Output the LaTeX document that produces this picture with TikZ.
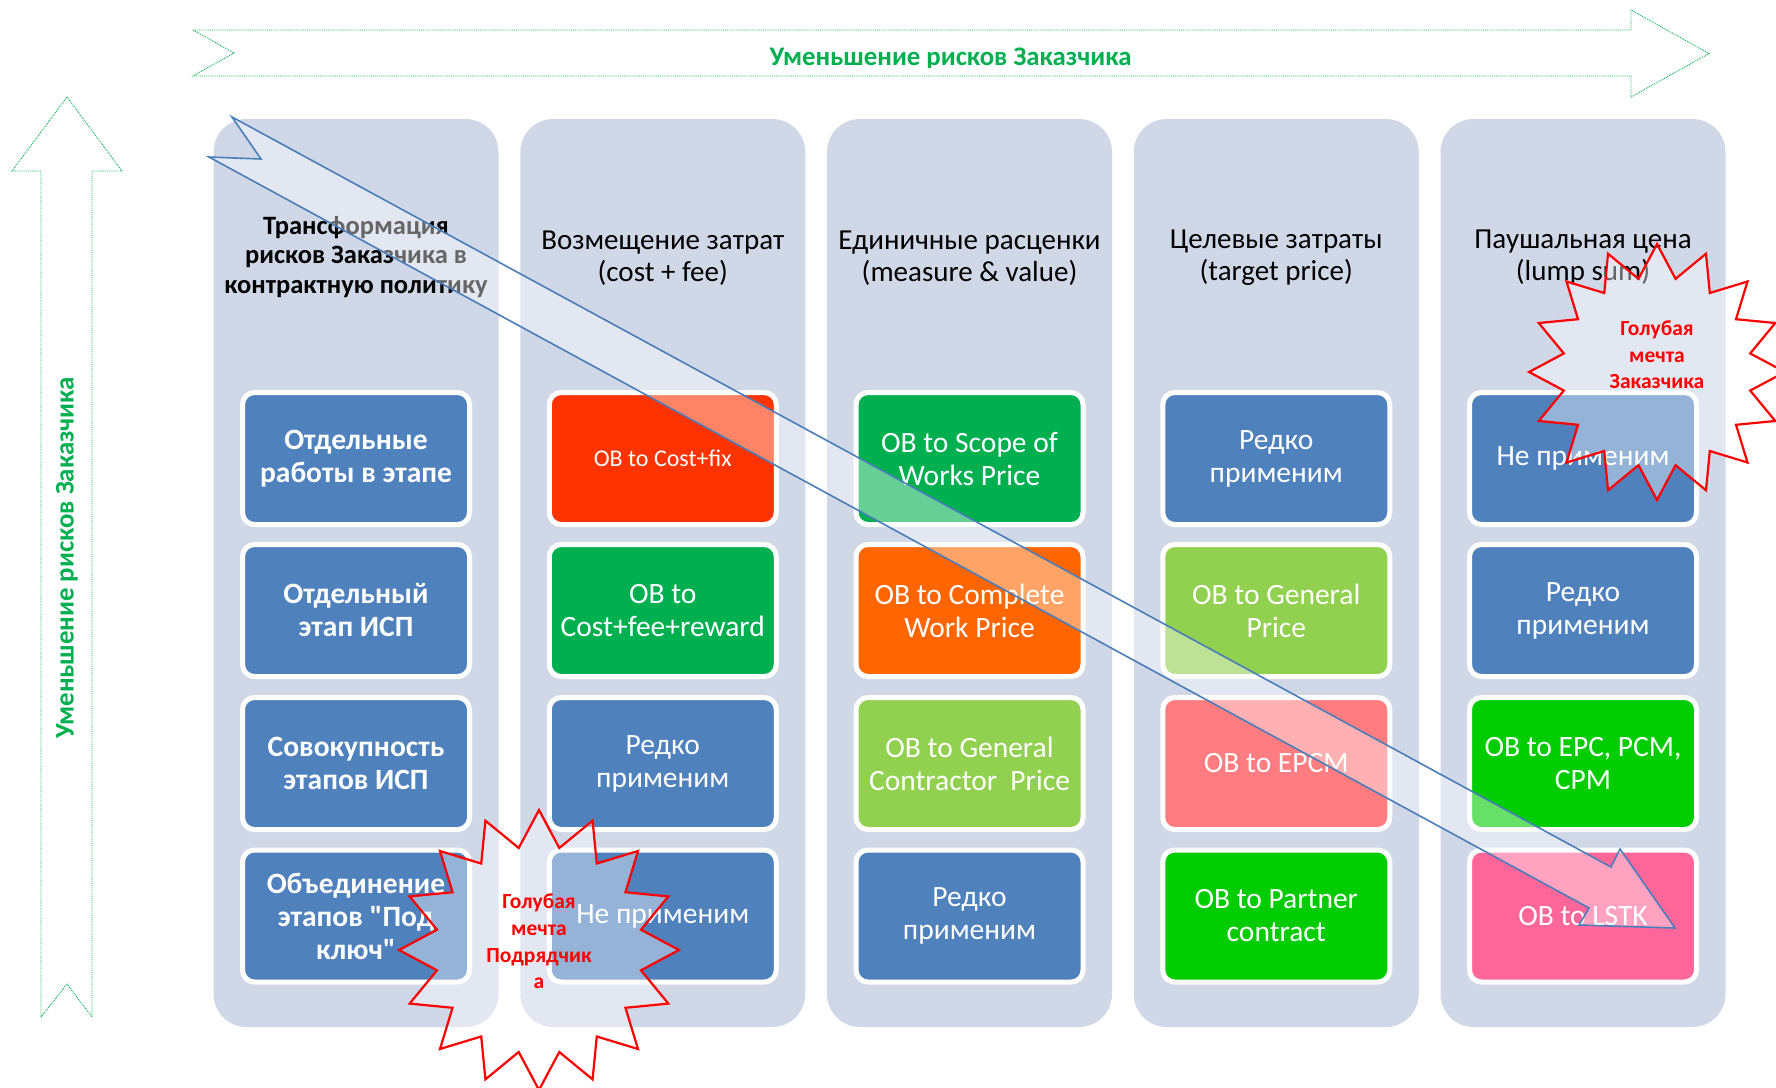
\documentclass[tikz,border=0pt]{standalone}
\usepackage{fontspec}
\setmainfont{Carlito}
\newfontfamily\qfont{Carlito}
\definecolor{panelc}{HTML}{D0D8E8}
\definecolor{cblue}{HTML}{4F81BD}
\definecolor{cred}{HTML}{FF3300}
\definecolor{cgreen}{HTML}{00B050}
\definecolor{corange}{HTML}{FF6600}
\definecolor{clgreen}{HTML}{92D050}
\definecolor{csalmon}{HTML}{FF7C80}
\definecolor{cbgreen}{HTML}{00CC00}
\definecolor{cpink}{HTML}{FF6699}
\definecolor{arrowblue}{HTML}{4A7EBB}
\definecolor{tgreen}{HTML}{00B050}
\newcommand{\sq}{{\qfont\bfseries"}}
\tikzset{
  panelbox/.style={fill=panelc, draw=none, rounded corners=33pt, minimum width=285pt, minimum height=908pt, inner sep=0pt},
  obox/.style={draw=white, line width=5pt, rounded corners=12pt, minimum width=227pt, minimum height=132pt, align=center, text=white, inner sep=2pt, font=\fontsize{29.5}{33}\selectfont},
  oboxb/.style={obox, fill=cblue, font=\fontsize{29.5}{33}\selectfont\bfseries},
  hdr/.style={align=center, text=black, font=\fontsize{29}{32}\selectfont},
  hdrbold/.style={align=center, text=black, font=\fontsize{26.5}{29.5}\selectfont\bfseries},
  greenarrow/.style={draw=tgreen, densely dotted, line width=0.9pt, fill=white},
  bigarrow/.style={fill=white, fill opacity=0.4, draw=arrowblue, line width=1.6pt, line join=miter},
  starshape/.style={fill=white, fill opacity=0.4, draw=red, line width=2.2pt},
  startext/.style={align=center, text=red, font=\fontsize{21.5}{26.6}\selectfont\bfseries},
  risktext/.style={text=tgreen, font=\fontsize{26.8}{30}\selectfont\bfseries}
}
\begin{document}
\begin{tikzpicture}[x=1pt,y=-1pt]
\useasboundingbox (0,0) rectangle (1776,1087);
\clip (0,0) rectangle (1776,1087);

% green arrows
\draw[greenarrow] (193,30) -- (1631,30) -- (1631,10) -- (1709,53.5) -- (1631,97) -- (1631,76) -- (193,76) -- (234,53) -- cycle;
\begin{scope}
\clip (193,31) rectangle (1631,67);
\node[risktext, anchor=base] (toptext) at (950.5,65) {Уменьшение рисков Заказчика};
\end{scope}
\draw[greenarrow] (67,97) -- (122,171) -- (92,171) -- (92,1017) -- (67,984) -- (41,1017) -- (41,171) -- (12,171) -- cycle;
\node[risktext, rotate=90] (lefttext) at (67,558) {Уменьшение рисков Заказчика};

% panels
\foreach \i in {1,...,5} {
  \node[panelbox] (panel\i) at ({356+306.75*(\i-1)},573) {};
}

% headers
\node[hdrbold] (h1) at (356,257) {Трансформация\\рисков Заказчика в\\контрактную политику};
\node[hdr] (h2) at (662.75,258) {Возмещение затрат\\(cost + fee)};
\node[hdr] (h3) at (969.5,258) {Единичные расценки\\(measure \& value)};
\node[hdr] (h4) at (1276.25,258) {Целевые затраты\\(target price)};
\node[hdr] (h5) at (1583,258) {Паушальная цена\\(lump sum)};

% column 1
\node[oboxb] (b11) at (356,458.5) {Отдельные\\работы в этапе};
\node[oboxb] (b12) at (356,610.5) {Отдельный\\этап ИСП};
\node[oboxb] (b13) at (356,763.5) {Совокупность\\этапов ИСП};
\node[oboxb] (b14) at (356,916) {Объединение\\этапов \sq Под\\ключ\sq};

% column 2
\node[obox, fill=cred, font=\fontsize{24}{28}\selectfont] (b21) at (662.75,458.5) {OB to Cost+fix};
\node[obox, fill=cgreen] (b22) at (662.75,610.5) {OB to\\Cost+fee+reward};
\node[obox, fill=cblue] (b23) at (662.75,763.5) {Редко\\применим};
\node[obox, fill=cblue] (b24) at (662.75,916) {Не применим};

% column 3
\node[obox, fill=cgreen] (b31) at (969.5,458.5) {OB to Scope of\\Works Price};
\node[obox, fill=corange] (b32) at (969.5,610.5) {OB to Complete\\Work Price};
\node[obox, fill=clgreen] (b33) at (969.5,763.5) {OB to General\\Contractor\ \ Price};
\node[obox, fill=cblue] (b34) at (969.5,916) {Редко\\применим};

% column 4
\node[obox, fill=cblue] (b41) at (1276.25,458.5) {Редко\\применим};
\node[obox, fill=clgreen] (b42) at (1276.25,610.5) {OB to General\\Price};
\node[obox, fill=csalmon] (b43) at (1276.25,763.5) {OB to EPCM};
\node[obox, fill=cbgreen] (b44) at (1276.25,916) {OB to Partner\\contract};

% column 5
\node[obox, fill=cblue] (b51) at (1583,458.5) {Не применим};
\node[obox, fill=cblue] (b52) at (1583,610.5) {Редко\\применим};
\node[obox, fill=cbgreen] (b53) at (1583,763.5) {OB to EPC, PCM,\\CPM};
\node[obox, fill=cpink] (b54) at (1583,916) {OB to LSTK};

% big diagonal arrow
\draw[bigarrow] (232,117) -- (1611,867) -- (1620,849) -- (1675,928) -- (1579,925) -- (1589,908) -- (209,157) -- (261,159) -- cycle;

% stars
\draw[starshape, shift={(1657,372)}] (90:128) \foreach \k in {0,...,15} { -- ({101.25+\k*22.5}:95) -- ({112.5+\k*22.5}:128) } -- cycle;
\node[startext] (s1) at (1657,355) {Голубая\\мечта\\Заказчика};
\draw[starshape, shift={(539,950)}] (90:140) \foreach \k in {0,...,15} { -- ({101.25+\k*22.5}:104) -- ({112.5+\k*22.5}:140) } -- cycle;
\node[startext] (s2) at (539,941.5) {Голубая\\мечта\\Подрядчик\\а};
\end{tikzpicture}
\end{document}
